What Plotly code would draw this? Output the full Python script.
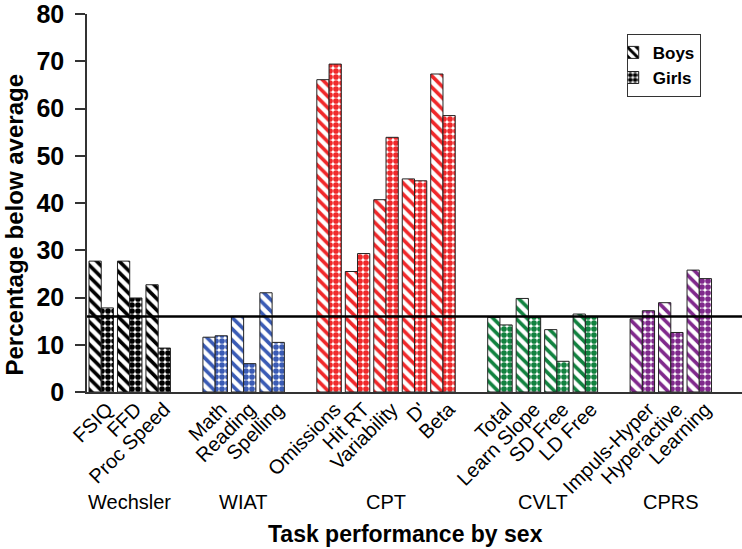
import plotly.graph_objects as go

# ---- data ----
groups = ["Wechsler", "WIAT", "CPT", "CVLT", "CPRS"]
wechsler_labels = ["FSIQ", "FFD", "Proc Speed"]
wiat_labels = ["Math", "Reading", "Spelling"]
cpt_labels = ["Omissions", "Hit RT", "Variability", "D'", "Beta"]
cvlt_labels = ["Total", "Learn Slope", "SD Free", "LD Free"]
cprs_labels = ["Impuls-Hyper", "Hyperactive", "Learning"]

wechsler_boys = [27.7, 27.7, 22.7]
wechsler_girls = [17.8, 19.9, 9.3]
wiat_boys = [11.6, 16.0, 21.0]
wiat_girls = [11.9, 6.0, 10.5]
cpt_boys = [66.1, 25.5, 40.7, 45.1, 67.3]
cpt_girls = [69.4, 29.3, 53.9, 44.7, 58.5]
cvlt_boys = [15.8, 19.8, 13.2, 16.5]
cvlt_girls = [14.2, 15.8, 6.5, 16.0]
cprs_boys = [15.5, 18.9, 25.8]
cprs_girls = [17.2, 12.6, 24.0]

group_colors = ["#000000", "#3a5bb5", "#f0282a", "#11823f", "#80298c"]
reference_line = 16

# ---- build positions (one empty slot between groups) ----
label_sets = [wechsler_labels, wiat_labels, cpt_labels, cvlt_labels, cprs_labels]
boys_sets = [wechsler_boys, wiat_boys, cpt_boys, cvlt_boys, cprs_boys]
girls_sets = [wechsler_girls, wiat_girls, cpt_girls, cvlt_girls, cprs_girls]

xs, labels, boys, girls, colors, group_centers = [], [], [], [], [], []
pos = 0
for gi, labs in enumerate(label_sets):
    start = pos
    for j, lab in enumerate(labs):
        xs.append(pos)
        labels.append(lab)
        boys.append(boys_sets[gi][j])
        girls.append(girls_sets[gi][j])
        colors.append(group_colors[gi])
        pos += 1
    group_centers.append((start + pos - 1) / 2)
    pos += 1
n_slots = pos - 1

FONT = "Liberation Sans, Arial, sans-serif"

fig = go.Figure()
fig.add_trace(go.Bar(
    x=xs, y=boys, name="Boys",
    marker=dict(color="white", line=dict(color="#222222", width=1),
                pattern=dict(shape="\\", fgcolor=colors, bgcolor="white",
                             size=8, solidity=0.45, fillmode="replace")),
))
fig.add_trace(go.Bar(
    x=xs, y=girls, name="Girls",
    marker=dict(color="white", line=dict(color="#222222", width=1),
                pattern=dict(shape=".", fgcolor=colors, bgcolor="white",
                             size=6, solidity=0.7, fillmode="replace")),
))

fig.add_shape(type="line", xref="paper", x0=0, x1=1, yref="y",
              y0=reference_line, y1=reference_line,
              line=dict(color="black", width=2.5))

annotations = []
for g, c in zip(groups, group_centers):
    annotations.append(dict(x=c, xref="x", y=-0.291, yref="paper", text=g,
                            showarrow=False, yanchor="middle",
                            font=dict(family=FONT, size=20, color="black")))
annotations.append(dict(x=0.4855, xref="paper", y=-0.376, yref="paper",
                        text="<b>Task performance by sex</b>", showarrow=False,
                        yanchor="middle",
                        font=dict(family=FONT, size=23, color="black")))
annotations.append(dict(x=-0.11, xref="paper", y=0.443, yref="paper",
                        text="<b>Percentage below average</b>", showarrow=False,
                        textangle=-90, xanchor="center", yanchor="middle",
                        font=dict(family=FONT, size=24, color="black")))

fig.update_layout(
    width=742, height=549,
    margin=dict(l=87, r=0, t=11, b=157),
    paper_bgcolor="white", plot_bgcolor="white",
    barmode="group", bargap=0.14, bargroupgap=0,
    showlegend=True,
    legend=dict(x=0.824, y=0.9475, xanchor="left", yanchor="top",
                bordercolor="#333333", borderwidth=1, bgcolor="white",
                font=dict(family=FONT, size=17, color="black", weight="bold"),
                itemwidth=30, indentation=-15, tracegroupgap=0),
    annotations=annotations,
    font=dict(family=FONT, color="black"),
)
fig.update_xaxes(
    range=[-0.5, n_slots + 0.5], tickvals=xs, ticktext=labels,
    tickangle=-45, tickfont=dict(family=FONT, size=20, color="black"),
    ticklabelshift=6, ticklabelstandoff=-4,
    showline=True, linecolor="#333333", linewidth=1.5, ticks="",
    showgrid=False, zeroline=False,
)
fig.update_yaxes(
    range=[0, 80], tickvals=[0, 10, 20, 30, 40, 50, 60, 70, 80],
    ticks="outside", ticklen=10, tickcolor="#333333", tickwidth=1.5,
    ticklabelstandoff=6, ticklabeloverflow="allow",
    tickfont=dict(family=FONT, size=25, color="black", weight="bold"),
    showline=True, linecolor="#333333", linewidth=1.5,
    showgrid=False, zeroline=False,
)
fig.write_html("out.html", config={"displayModeBar": False},
               post_script="document.body.style.margin='0';")
